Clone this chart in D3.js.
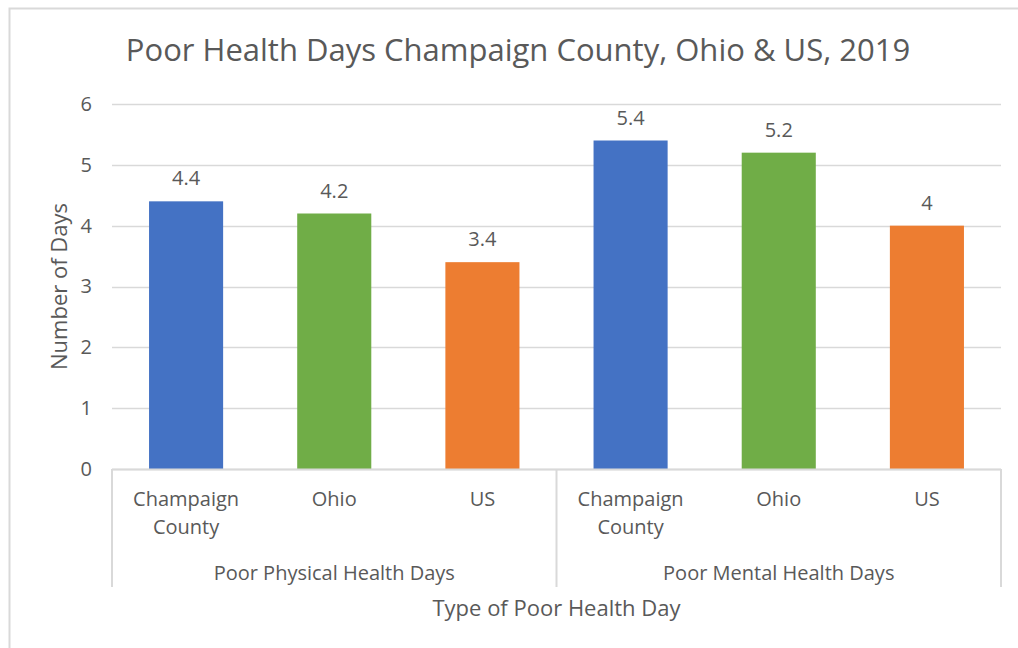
<!DOCTYPE html>
<html>
<head>
<meta charset="utf-8">
<script src="https://cdn.jsdelivr.net/npm/d3@7"></script>
<style>
  body { margin: 0; background: #fff; }
  svg text { font-family: "Open Sans", sans-serif; fill: #595959; }
</style>
</head>
<body>
<svg id="chart" width="1018" height="648"></svg>
<script>
// chart data
var groups = ["Poor Physical Health Days", "Poor Mental Health Days"];
var places = ["Champaign County", "Ohio", "US"];
var physicalDays = [4.4, 4.2, 3.4];
var mentalDays = [5.4, 5.2, 4];
var yTicks = [0, 1, 2, 3, 4, 5, 6];
var placeColors = ["#4472C4", "#70AD47", "#ED7D31"];

var svg = d3.select("#chart");

var margin = {top: 104, right: 17, bottom: 179, left: 112},
    width = 1018 - margin.left - margin.right,
    height = 648 - margin.top - margin.bottom;

// outer frame
svg.append("rect")
    .attr("x", 9.5).attr("y", 8.5)
    .attr("width", 1030).attr("height", 660)
    .attr("fill", "none")
    .attr("stroke", "#D9D9D9")
    .attr("stroke-width", 2);

// flat list of bars
var bars = [];
[physicalDays, mentalDays].forEach(function(vals, g) {
    vals.forEach(function(v, i) {
        bars.push({group: g, place: i, value: v, key: g * places.length + i});
    });
});

var g = svg.append("g").attr("transform", "translate(" + margin.left + "," + margin.top + ")");

var xScale = d3.scaleBand()
    .domain(bars.map(function(d) { return d.key; }))
    .range([0, width])
    .paddingInner(0.5)
    .paddingOuter(0.25);

var groupScale = d3.scaleBand()
    .domain(groups)
    .range([0, width]);

var yScale = d3.scaleLinear()
    .domain([0, 6])
    .range([height, 0]);

// gridlines
g.selectAll(".grid")
    .data(yTicks)
    .enter().append("line")
    .attr("x1", 0).attr("x2", width)
    .attr("y1", function(d) { return Math.round(yScale(d)) + 0.5; })
    .attr("y2", function(d) { return Math.round(yScale(d)) + 0.5; })
    .attr("stroke", "#D9D9D9")
    .attr("stroke-width", 1.5);

// y axis labels
var yAxis = d3.axisLeft(yScale).tickValues(yTicks).tickFormat(d3.format("d")).tickSize(0).tickPadding(20);
var yAxisGroup = g.append("g").call(yAxis);
yAxisGroup.select(".domain").remove();
yAxisGroup.selectAll("text")
    .style("font-size", "20px")
    .attr("fill", "#595959");

// bars
g.selectAll(".bar")
    .data(bars)
    .enter().append("rect")
    .attr("x", function(d) { return xScale(d.key); })
    .attr("width", xScale.bandwidth())
    .attr("y", function(d) { return yScale(d.value); })
    .attr("height", function(d) { return height - yScale(d.value); })
    .attr("fill", function(d) { return placeColors[d.place]; });

// data labels
g.selectAll(".val")
    .data(bars)
    .enter().append("text")
    .attr("x", function(d) { return xScale(d.key) + xScale.bandwidth() / 2; })
    .attr("y", function(d) { return yScale(d.value) - 16; })
    .attr("text-anchor", "middle")
    .style("font-size", "20px")
    .text(function(d) { return d.value; });

// category axis box
var boxBottom = height + 118;
g.append("line")
    .attr("x1", 0).attr("x2", width)
    .attr("y1", height + 0.5).attr("y2", height + 0.5)
    .attr("stroke", "#D9D9D9").attr("stroke-width", 2);

var edges = [0].concat(groups.map(function(d) { return groupScale(d) + groupScale.bandwidth(); }));
g.selectAll(".sep")
    .data(edges)
    .enter().append("line")
    .attr("x1", function(d) { return d; })
    .attr("x2", function(d) { return d; })
    .attr("y1", height).attr("y2", boxBottom)
    .attr("stroke", "#D9D9D9").attr("stroke-width", 2);

// place labels (wrapped)
var placeLabels = g.selectAll(".place")
    .data(bars)
    .enter().append("text")
    .attr("text-anchor", "middle")
    .style("font-size", "20px")
    .attr("transform", function(d) {
        return "translate(" + (xScale(d.key) + xScale.bandwidth() / 2) + "," + (height + 37) + ")";
    });
placeLabels.each(function(d) {
    var words = places[d.place] === "Champaign County" ? ["Champaign", "County"] : [places[d.place]];
    d3.select(this).selectAll("tspan")
        .data(words)
        .enter().append("tspan")
        .attr("x", 0)
        .attr("dy", function(w, i) { return i === 0 ? 0 : 28; })
        .text(function(w) { return w; });
});

// group labels
g.selectAll(".grp")
    .data(groups)
    .enter().append("text")
    .attr("x", function(d) { return groupScale(d) + groupScale.bandwidth() / 2; })
    .attr("y", height + 111)
    .attr("text-anchor", "middle")
    .style("font-size", "20px")
    .text(function(d) { return d; });

// axis titles
svg.append("text")
    .attr("x", margin.left + width / 2)
    .attr("y", 616)
    .attr("text-anchor", "middle")
    .style("font-size", "22px")
    .text("Type of Poor Health Day");

svg.append("text")
    .attr("transform", "translate(67," + (margin.top + height / 2) + ") rotate(-90)")
    .attr("text-anchor", "middle")
    .style("font-size", "22px")
    .text("Number of Days");

// title
svg.append("text")
    .attr("x", 518)
    .attr("y", 61)
    .attr("text-anchor", "middle")
    .style("font-size", "31px")
    .text("Poor Health Days Champaign County, Ohio & US, 2019");
</script>
</body>
</html>
